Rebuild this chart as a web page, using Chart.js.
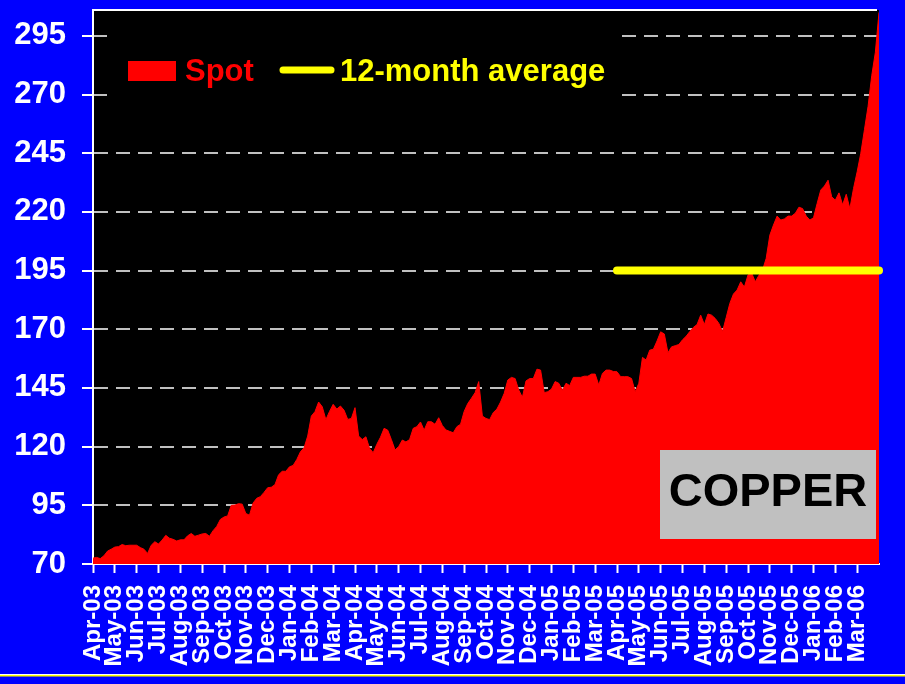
<!DOCTYPE html>
<html>
<head>
<meta charset="utf-8">
<script src="https://cdn.jsdelivr.net/npm/chart.js@4.4.1/dist/chart.umd.min.js"></script>
<style>
  html, body { margin: 0; padding: 0; background: #0000ff; }
  #wrap { width: 905px; height: 684px; }
</style>
</head>
<body>
<div id="wrap"><canvas id="copperChart" width="905" height="684"></canvas></div>
<script>
// month labels on the x axis
const months = ['Apr-03','May-03','Jun-03','Jul-03','Aug-03','Sep-03','Oct-03','Nov-03','Dec-03',
    'Jan-04','Feb-04','Mar-04','Apr-04','May-04','Jun-04','Jul-04','Aug-04','Sep-04','Oct-04','Nov-04','Dec-04',
    'Jan-05','Feb-05','Mar-05','Apr-05','May-05','Jun-05','Jul-05','Aug-05','Sep-05','Oct-05','Nov-05','Dec-05',
    'Jan-06','Feb-06','Mar-06'];

// spot price, 6 readings per month
const pointsPerMonth = 6;
const spot = [
    72.5, 72.8, 72.3, 73.5, 75.5, 76.3,   77.2, 77.4, 78.3, 77.8, 78, 78,
    78, 77, 76.3, 74.5, 78, 79.5,         78.5, 80.2, 82.2, 81, 80.5, 79.8,
    80.3, 80.3, 82, 83, 81.8, 82.3,       82.8, 83, 81.8, 84.2, 86, 89,
    90, 90.5, 95, 95.1, 95.7, 95.5,       91.5, 90.8, 96, 98, 98.7, 100.5,
    102.5, 102.7, 103.8, 108, 109.5, 109.5, 111.4, 112, 114.5, 117.8, 119.5, 124.5,
    133, 134.9, 139, 137, 131.5, 135,     138, 136, 137.3, 135.5, 131.6, 132,
    136.6, 124.5, 123, 124.2, 119.3, 117.4, 121, 124, 127.8, 127, 123, 118.6,
    120, 122.8, 122, 123, 127.8, 128.5,   130.5, 127, 130.6, 130.6, 129.5, 132.3,
    129, 127.1, 126.5, 125.9, 128.5, 129.5, 135, 138.4, 140.6, 143, 147.7, 133,
    132, 131.5, 134.5, 136, 139, 142.7,   148.4, 149.5, 149, 144.1, 141, 148,
    149, 149, 153, 152.6, 143, 143.4,     144.5, 147.7, 147, 144, 147, 146,
    149.5, 149.5, 149.5, 150, 150, 150.9, 150.9, 146.2, 151.2, 152.6, 152.6, 152,
    151.9, 149.8, 149.8, 149.8, 149, 143.4, 147, 158, 156.9, 161.1, 161.5, 165,
    168.9, 168, 160, 162.5, 163, 163.5,   165.5, 167, 169, 170.8, 172, 176,
    172, 176.5, 176, 174.6, 172.5, 169,   175, 181, 185, 186.7, 190.2, 188,
    193.1, 194, 190.2, 193, 195.2, 200.2, 210.1, 214.4, 218.2, 216.5, 217, 218.2,
    218.2, 219.4, 222, 221.4, 218.2, 216.5, 217.5, 223.6, 229.3, 231, 233.5, 226.4,
    225, 228.1, 223, 227.5, 221.4, 230,   237.1, 245, 255, 265, 278, 288,
    305
];

// 12-month average, Apr-05 to Mar-06
const avgValue = 195;
const avgFrom = 24;
const avgTo = 36;

const yTicks = [70, 95, 120, 145, 170, 195, 220, 245, 270, 295];
const yMin = 70;
const yMax = 306;

const FONT = "'Liberation Sans', Arial, sans-serif";

// background, top border, legend, COPPER box, bottom rule
const decor = {
    id: 'decor',
    beforeDraw(chart) {
        const { ctx, chartArea: a, width, height } = chart;
        ctx.save();
        ctx.fillStyle = '#0000ff';
        ctx.fillRect(0, 0, width, height);
        ctx.fillStyle = '#000000';
        ctx.fillRect(a.left, a.top, a.right - a.left, a.bottom - a.top);
        ctx.restore();
    },
    afterDraw(chart) {
        const { ctx, chartArea: a, width } = chart;
        const ds = chart.data.datasets;
        ctx.save();

        // top border of plot
        ctx.strokeStyle = '#ffffff';
        ctx.lineWidth = 2;
        ctx.beginPath();
        ctx.moveTo(a.left, a.top);
        ctx.lineTo(a.right - 2, a.top);
        ctx.stroke();

        // legend
        ctx.fillStyle = '#000000';
        ctx.fillRect(107, 22, 513, 88);
        ctx.font = 'bold 31px ' + FONT;
        ctx.textBaseline = 'alphabetic';
        ctx.fillStyle = ds[0].backgroundColor;
        ctx.fillRect(128, 61, 48, 20);
        ctx.fillText(ds[0].label, 185, 81);
        ctx.strokeStyle = ds[1].borderColor;
        ctx.lineWidth = 7;
        ctx.lineCap = 'round';
        ctx.beginPath();
        ctx.moveTo(283, 70);
        ctx.lineTo(331, 70);
        ctx.stroke();
        ctx.fillStyle = ds[1].borderColor;
        ctx.fillText(ds[1].label, 340, 81);

        // COPPER label
        ctx.fillStyle = '#c0c0c0';
        ctx.fillRect(660, 450, 216, 89);
        ctx.fillStyle = '#000000';
        ctx.font = 'bold 47px ' + FONT;
        ctx.textAlign = 'center';
        ctx.textBaseline = 'middle';
        ctx.fillText('COPPER', 768, 493);

        // thin rule along the bottom
        ctx.fillStyle = '#ffffff';
        ctx.fillRect(0, 674, width, 1);
        ctx.fillStyle = '#ffff00';
        ctx.fillRect(0, 675, width, 1.5);
        ctx.restore();
    }
};

const ctx = document.getElementById('copperChart').getContext('2d');
new Chart(ctx, {
    type: 'line',
    data: {
        datasets: [
            {
                label: 'Spot',
                data: spot.map((v, i) => ({ x: i / pointsPerMonth, y: v })),
                backgroundColor: '#ff0000',
                borderColor: '#ff0000',
                borderWidth: 1,
                fill: 'start',
                pointRadius: 0,
                tension: 0,
                order: 2
            },
            {
                label: '12-month average',
                data: [{ x: avgFrom, y: avgValue }, { x: avgTo, y: avgValue }],
                borderColor: '#ffff00',
                backgroundColor: '#ffff00',
                borderWidth: 8,
                borderCapStyle: 'round',
                fill: false,
                pointRadius: 0,
                clip: false,
                order: 1
            }
        ]
    },
    options: {
        responsive: false,
        animation: false,
        events: [],
        layout: { padding: { top: 10, right: 26, left: 0, bottom: 0 } },
        plugins: {
            legend: { display: false },
            tooltip: { enabled: false }
        },
        scales: {
            x: {
                type: 'linear',
                min: 0,
                max: months.length,
                afterBuildTicks: scale => {
                    scale.ticks = months.map((m, i) => ({ value: i }));
                },
                afterFit: scale => {
                    scale.height = 120;
                    scale.paddingLeft = 0;
                    scale.paddingRight = 0;
                },
                ticks: {
                    autoSkip: false,
                    minRotation: 90,
                    maxRotation: 90,
                    padding: 12,
                    color: '#ffffff',
                    font: { family: FONT, size: 24, weight: 'bold' },
                    callback: (val, idx) => months[idx]
                },
                grid: {
                    drawOnChartArea: false,
                    drawTicks: true,
                    tickLength: 9,
                    tickColor: '#ffffff',
                    tickWidth: 2,
                    tickBorderDash: []
                },
                border: { display: true, color: '#ffffff', width: 2 }
            },
            y: {
                min: yMin,
                max: yMax,
                afterBuildTicks: scale => {
                    scale.ticks = yTicks.map(v => ({ value: v }));
                },
                afterFit: scale => {
                    scale.width = 93;
                    scale.paddingTop = 0;
                    scale.paddingBottom = 0;
                },
                ticks: {
                    padding: 16,
                    color: '#ffffff',
                    font: { family: FONT, size: 31, weight: 'bold' }
                },
                grid: {
                    color: '#c0c0c0',
                    lineWidth: 2,
                    drawTicks: true,
                    tickLength: 11,
                    tickColor: '#ffffff',
                    tickWidth: 2,
                    tickBorderDash: []
                },
                border: { display: true, color: '#ffffff', width: 2, dash: [14, 8] }
            }
        }
    },
    plugins: [decor]
});
</script>
</body>
</html>
